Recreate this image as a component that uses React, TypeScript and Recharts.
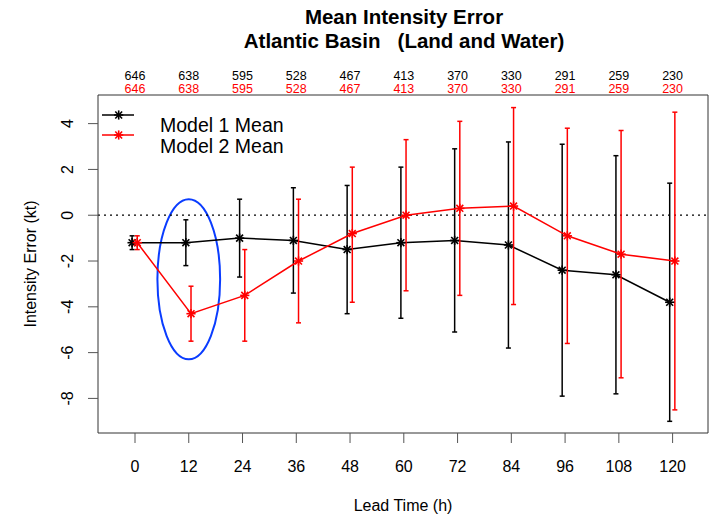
import { ComposedChart, Line, XAxis, YAxis, ErrorBar, ReferenceLine, ReferenceArea } from 'recharts'

const leadTimes = [0, 12, 24, 36, 48, 60, 72, 84, 96, 108, 120]
const model1Count = [646, 638, 595, 528, 467, 413, 370, 330, 291, 259, 230]
const model2Count = [646, 638, 595, 528, 467, 413, 370, 330, 291, 259, 230]

const model1Mean = [-1.2, -1.2, -1.0, -1.1, -1.5, -1.2, -1.1, -1.3, -2.4, -2.6, -3.8]
const model1Low = [-1.5, -2.2, -2.7, -3.4, -4.3, -4.5, -5.1, -5.8, -7.9, -7.8, -9.0]
const model1High = [-0.9, -0.2, 0.7, 1.2, 1.3, 2.1, 2.9, 3.2, 3.1, 2.6, 1.4]

const model2Mean = [-1.2, -4.3, -3.5, -2.0, -0.8, 0.0, 0.3, 0.4, -0.9, -1.7, -2.0]
const model2Low = [-1.5, -5.5, -5.5, -4.7, -3.8, -3.3, -3.5, -3.9, -5.6, -7.1, -8.5]
const model2High = [-0.9, -3.1, -1.5, 0.7, 2.1, 3.3, 4.1, 4.7, 3.8, 3.7, 4.5]

const yTicks = [-8, -6, -4, -2, 0, 2, 4]

// small horizontal offset so the two models don't overlap
const model1Data = leadTimes.map((t, i) => ({
  x: t - 0.65,
  y: model1Mean[i],
  err: [model1Mean[i] - model1Low[i], model1High[i] - model1Mean[i]],
}))
const model2Data = leadTimes.map((t, i) => ({
  x: t + 0.5,
  y: model2Mean[i],
  err: [model2Mean[i] - model2Low[i], model2High[i] - model2Mean[i]],
}))

const FONT = "'Liberation Sans', Arial, Helvetica, sans-serif"
const X_DOMAIN = [-8.26, 127.9]
const Y_DOMAIN = [-9.51, 5.25]

function Star({ cx, cy, color, r = 4.6 }: any) {
  if (cx == null || cy == null) return null
  const d = r * 0.75
  return (
    <g stroke={color} strokeWidth={1.6}>
      <line x1={cx - r} y1={cy} x2={cx + r} y2={cy} />
      <line x1={cx} y1={cy - r} x2={cx} y2={cy + r} />
      <line x1={cx - d} y1={cy - d} x2={cx + d} y2={cy + d} />
      <line x1={cx - d} y1={cy + d} x2={cx + d} y2={cy - d} />
    </g>
  )
}

// bottom tick label plus the sample counts printed above the plot box
function BottomTick({ x, y, payload }: any) {
  const i = leadTimes.indexOf(payload.value)
  return (
    <g fontFamily={FONT} textAnchor="middle">
      <text x={x} y={y + 27} fontSize={16} fill="#000">{payload.value}</text>
      <text x={x} y={80} fontSize={12.5} fill="#000">{model1Count[i]}</text>
      <text x={x} y={92.5} fontSize={12.5} fill="#ff0000">{model2Count[i]}</text>
    </g>
  )
}

function LeftTick({ x, y, payload }: any) {
  const tx = x - 12.5
  return (
    <text x={tx} y={y} transform={`rotate(-90, ${tx}, ${y})`} textAnchor="middle" fontSize={16} fill="#000" fontFamily={FONT}>
      {payload.value}
    </text>
  )
}

function Ellipse({ x, y, width, height }: any) {
  return (
    <ellipse cx={x + width / 2} cy={y + height / 2} rx={width / 2} ry={height / 2} fill="none" stroke="#0a3cff" strokeWidth={2} />
  )
}

function LegendBox() {
  return (
    <svg width={220} height={55} style={{ position: 'absolute', left: 100, top: 105, fontFamily: FONT }}>
      <line x1={2} y1={10} x2={34} y2={10} stroke="#000" strokeWidth={1.5} />
      <Star cx={18.7} cy={10} color="#000" />
      <line x1={2} y1={30} x2={34} y2={30} stroke="#ff0000" strokeWidth={1.5} />
      <Star cx={18.7} cy={30} color="#ff0000" />
      <text x={60} y={27} fontSize={19.5} fill="#000">Model 1 Mean</text>
      <text x={60} y={47.5} fontSize={19.5} fill="#000">Model 2 Mean</text>
    </svg>
  )
}

export default function App() {
  return (
    <div style={{ position: 'absolute', left: 0, top: 0, width: 712, height: 516, background: '#fff', fontFamily: FONT }}>
      <div style={{ position: 'absolute', left: 404, top: 5, transform: 'translateX(-50%)', whiteSpace: 'pre', textAlign: 'center', fontWeight: 'bold', fontSize: 20.5, lineHeight: '24px', zIndex: 2 }}>
        {'Mean Intensity Error\nAtlantic Basin   (Land and Water)'}
      </div>
      <ComposedChart width={712} height={516} margin={{ top: 0, right: 0, bottom: 0, left: 0 }}>
        <XAxis
          xAxisId="b"
          dataKey="x"
          type="number"
          domain={X_DOMAIN}
          allowDataOverflow
          ticks={leadTimes}
          height={83}
          tickSize={10}
          stroke="#333"
          tickLine={{ stroke: '#555' }}
          tick={<BottomTick />}
          label={{ value: 'Lead Time (h)', position: 'insideBottom', offset: 5, fontSize: 16, fill: '#000', fontFamily: FONT }}
        />
        <XAxis xAxisId="t" orientation="top" type="number" domain={X_DOMAIN} allowDataOverflow height={95} tick={false} tickLine={false} stroke="#333" />
        <YAxis
          yAxisId="l"
          type="number"
          domain={Y_DOMAIN}
          allowDataOverflow
          ticks={yTicks}
          width={98}
          tickSize={10}
          stroke="#333"
          tickLine={{ stroke: '#555' }}
          tick={<LeftTick />}
          label={{ value: 'Intensity Error (kt)', angle: -90, position: 'insideLeft', offset: 30, fontSize: 16, fill: '#000', fontFamily: FONT, style: { textAnchor: 'middle' } }}
        />
        <YAxis yAxisId="r" orientation="right" type="number" domain={Y_DOMAIN} allowDataOverflow width={4} tick={false} tickLine={false} stroke="#333" />
        <ReferenceLine xAxisId="b" yAxisId="l" y={0} stroke="#000" strokeDasharray="2 4" strokeWidth={1.3} />
        <ReferenceArea xAxisId="b" yAxisId="l" x1={5} x2={19} y1={-6.29} y2={0.7} shape={<Ellipse />} />
        <Line
          xAxisId="b"
          yAxisId="l"
          data={model1Data}
          dataKey="y"
          type="linear"
          stroke="#000"
          strokeWidth={1.5}
          dot={(p: any) => <Star key={'a' + p.index} cx={p.cx} cy={p.cy} color="#000" />}
          activeDot={false}
          isAnimationActive={false}
        >
          <ErrorBar dataKey="err" direction="y" width={2.5} stroke="#000" strokeWidth={1.5} />
        </Line>
        <Line
          xAxisId="b"
          yAxisId="l"
          data={model2Data}
          dataKey="y"
          type="linear"
          stroke="#ff0000"
          strokeWidth={1.5}
          dot={(p: any) => <Star key={'b' + p.index} cx={p.cx} cy={p.cy} color="#ff0000" />}
          activeDot={false}
          isAnimationActive={false}
        >
          <ErrorBar dataKey="err" direction="y" width={2.5} stroke="#ff0000" strokeWidth={1.5} />
        </Line>
      </ComposedChart>
      <LegendBox />
    </div>
  )
}
